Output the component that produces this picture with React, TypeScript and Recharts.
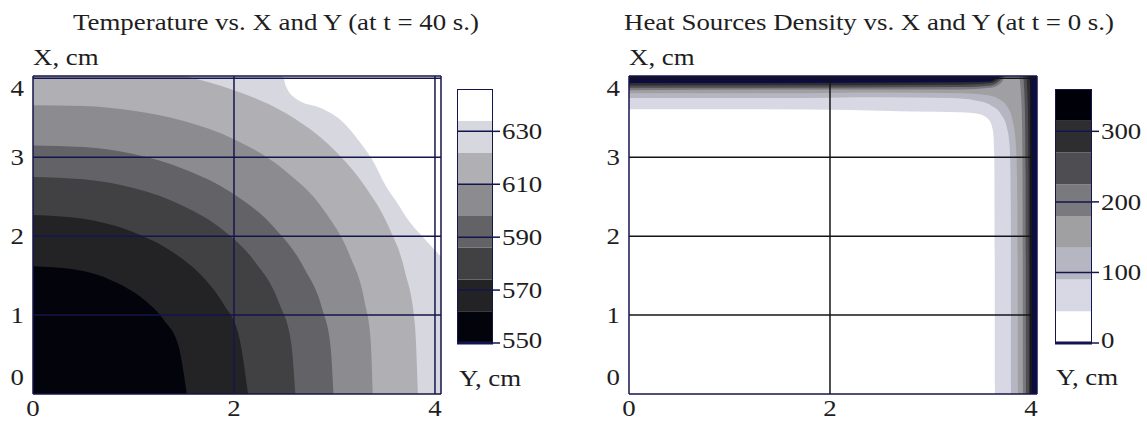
import React from "react";
import { ComposedChart, Area, XAxis, YAxis, ReferenceLine, BarChart, Bar } from "recharts";

const FONT = '"Liberation Serif", "Times New Roman", Times, serif';
const SX = 1.12; // the source text is a bit wide, stretch it horizontally
const NAVY = "#15154d";
const INK = "#1e1e1e";

// axes (cm)
const X_MAX = 4.06;
const Y_MAX = 4.03;
const X_TICKS = [0, 2, 4];
const Y_TICKS = [0, 1, 2, 3, 4];

// temperature: isotherm boundaries, coolest first ([x, y] in cm)
const T_C1 = [[0, 1.62], [0.4, 1.58], [0.8, 1.43], [1.1, 1.2], [1.3, 0.94], [1.45, 0.6], [1.53, 0]];
const T_C2 = [[0, 2.27], [0.5, 2.22], [1.0, 2.05], [1.4, 1.79], [1.7, 1.47], [1.9, 1.13], [2.05, 0.73], [2.14, 0]];
const T_C3 = [[0, 2.75], [0.5, 2.72], [1.0, 2.61], [1.5, 2.38], [1.9, 2.07], [2.2, 1.69], [2.45, 1.15], [2.57, 0.64], [2.61, 0]];
const T_C4 = [[0, 3.15], [0.5, 3.13], [1.0, 3.04], [1.5, 2.85], [2.0, 2.53], [2.4, 2.11], [2.7, 1.59], [2.88, 1.07], [2.96, 0.61], [2.99, 0]];
const T_C5 = [[0, 3.66], [0.5, 3.65], [1.0, 3.59], [1.5, 3.46], [2.0, 3.23], [2.5, 2.84], [2.9, 2.32], [3.15, 1.76], [3.3, 1.17], [3.36, 0.68], [3.38, 0]];
const T_C6 = [[0, 4.03], [1.51, 4.03], [1.6, 4.0], [1.75, 3.95], [2.0, 3.85], [2.5, 3.57], [3.0, 3.09], [3.3, 2.64], [3.55, 2.09], [3.7, 1.56], [3.8, 0.88], [3.83, 0]];
const T_C7 = [[0, 4.03], [2.48, 4.03], [2.52, 3.89], [2.62, 3.74], [2.87, 3.62], [3.08, 3.45], [3.23, 3.23], [3.37, 2.98], [3.51, 2.64], [3.62, 2.43], [3.73, 2.21], [3.9, 1.96], [4.06, 1.74]];
const T_BOUNDS = [T_C1, T_C2, T_C3, T_C4, T_C5, T_C6, T_C7];
const T_LEVELS = [550, 562, 574, 586, 598, 610, 622, 634, 646];
const T_COLORS = ["#03030c", "#232326", "#414144", "#636367", "#8c8c90", "#b0b0b4", "#d7d7df", "#ffffff"];
const T_LABELS = [550, 570, 590, 610, 630];

// heat sources density: band boundaries, lowest level first
const Q_C1 = [[0, 3.61], [1.2, 3.61], [2.2, 3.6], [2.8, 3.58], [3.3, 3.57], [3.48, 3.55], [3.57, 3.49], [3.62, 3.35], [3.635, 3.0], [3.64, 1.5], [3.641, 0]];
const Q_C2 = [[0, 3.75], [1.5, 3.75], [2.5, 3.76], [3.2, 3.75], [3.45, 3.72], [3.6, 3.66], [3.7, 3.55], [3.76, 3.38], [3.79, 3.1], [3.8, 2.2], [3.801, 0]];
const Q_C3 = [[0, 3.81], [1.5, 3.81], [2.5, 3.82], [3.3, 3.81], [3.55, 3.79], [3.68, 3.74], [3.76, 3.65], [3.82, 3.45], [3.85, 3.15], [3.865, 2.4], [3.87, 0]];
const Q_C4 = [[0, 3.85], [2.0, 3.86], [3.3, 3.86], [3.6, 3.88], [3.7, 3.94], [3.76, 4.03], [3.88, 4.03], [3.905, 3.7], [3.915, 3.0], [3.92, 0]];
const Q_C5 = [[0, 3.88], [3.3, 3.89], [3.6, 3.91], [3.69, 3.97], [3.74, 4.03], [3.92, 4.03], [3.94, 3.6], [3.947, 2.8], [3.95, 0]];
const Q_C6 = [[0, 3.91], [3.3, 3.92], [3.6, 3.94], [3.68, 3.99], [3.72, 4.03], [3.95, 4.03], [3.97, 3.6], [3.977, 2.8], [3.98, 0]];
const Q_C7 = [[0, 3.94], [3.3, 3.95], [3.6, 3.96], [3.66, 4.0], [3.7, 4.03], [3.98, 4.03], [4.0, 3.6], [4.007, 2.8], [4.01, 0]];
const Q_BOUNDS = [Q_C1, Q_C2, Q_C3, Q_C4, Q_C5, Q_C6, Q_C7];
const Q_LEVELS = [0, 45, 90, 135, 180, 225, 270, 315, 360];
const Q_COLORS = ["#ffffff", "#d8d8e4", "#b6b6c2", "#a0a0a2", "#7a7a7e", "#4e4e52", "#2e2e30", "#000008"];
const Q_PLOT_COLORS = ["#ffffff", "#d8d8e4", "#b6b6c2", "#a0a0a2", "#7a7a7e", "#4e4e52", "#2e2e30", "#0c0c40"];
const Q_LABELS = [0, 100, 200, 300];

const toPts = (a: number[][]) => a.map(([x, y]) => ({ x, y }));

function Txt({ x, y, anchor = "start", children }: any) {
  return (
    <text transform={`translate(${x},${y}) scale(${SX},1)`} textAnchor={anchor} fontFamily={FONT} fontSize={24} fill={INK}>
      {children}
    </text>
  );
}

function XTick({ x, y, payload }: any) {
  return <Txt x={x} y={y + 18} anchor="middle">{payload.value}</Txt>;
}

function YTick({ x, y, payload }: any) {
  // end labels are pulled inside the frame, like the original
  const v = payload.value;
  const shift = v === Y_TICKS[0] ? -17 : v === Y_TICKS[Y_TICKS.length - 1] ? 10 : 0;
  return <Txt x={x} y={y + shift + 8} anchor="end">{v}</Txt>;
}

function ContourPlot({ left, bounds, colors, grid }: any) {
  const bg = toPts([[0, Y_MAX], [X_MAX, Y_MAX]]);
  const order = bounds.map((_: any, i: number) => i).reverse();
  return (
    <div style={{ position: "absolute", left, top: 0 }}>
      <ComposedChart width={460} height={421} margin={{ top: 76, right: 19, bottom: 0, left: 0 }}>
        <XAxis type="number" dataKey="x" domain={[0, X_MAX]} allowDataOverflow ticks={X_TICKS} interval={0}
          tick={(p: any) => <XTick {...p} />} tickLine={false} axisLine={false} tickSize={0} tickMargin={4} height={27} />
        <YAxis type="number" dataKey="y" domain={[0, Y_MAX]} allowDataOverflow ticks={Y_TICKS} interval={0}
          tick={(p: any) => <YTick {...p} />} tickLine={false} axisLine={false} tickSize={0} tickMargin={9} width={33} />
        <Area data={bg} dataKey="y" type="linear" fill={colors[colors.length - 1]} fillOpacity={1} stroke="none"
          isAnimationActive={false} dot={false} activeDot={false} />
        {order.map((i: number) => (
          <Area key={i} data={toPts(bounds[i])} dataKey="y" type="monotone" fill={colors[i]} fillOpacity={1}
            stroke="none" isAnimationActive={false} dot={false} activeDot={false} />
        ))}
        {X_TICKS.filter((v) => v > 0).map((v) => (
          <ReferenceLine key={"gx" + v} x={v} stroke={grid} strokeWidth={1.5} />
        ))}
        {Y_TICKS.filter((v) => v > 0).map((v) => (
          <ReferenceLine key={"gy" + v} y={v} stroke={grid} strokeWidth={1.5} />
        ))}
        <ReferenceLine x={0} stroke={NAVY} strokeWidth={1.5} />
        <ReferenceLine x={X_MAX} stroke={NAVY} strokeWidth={1.5} />
        <ReferenceLine y={0} stroke={NAVY} strokeWidth={1.5} />
        <ReferenceLine y={Y_MAX} stroke={NAVY} strokeWidth={1.5} />
      </ComposedChart>
    </div>
  );
}

function BarTick({ x, y, payload, low }: any) {
  const shift = payload.value === low ? -3 : 0;
  return <Txt x={x} y={y + shift + 8}>{payload.value}</Txt>;
}

function ColorBar({ left, width, levels, colors, labels }: any) {
  const row: any = { name: "bar", base: levels[0] };
  colors.forEach((_: string, i: number) => (row["b" + i] = levels[i + 1] - levels[i]));
  const low = levels[0];
  const high = levels[levels.length - 1];
  return (
    <div style={{ position: "absolute", left, top: 79 }}>
      <BarChart width={width + 60} height={274} data={[row]} margin={{ top: 10, right: 0, bottom: 10, left: 0 }} barCategoryGap={0}>
        <XAxis dataKey="name" hide />
        <YAxis orientation="right" type="number" domain={[low, high]} allowDataOverflow ticks={labels} interval={0} width={60}
          tickSize={7} tickMargin={2} tickLine={{ stroke: NAVY, strokeWidth: 1.5 }} axisLine={false}
          tick={(p: any) => <BarTick {...p} low={low} />} />
        <Bar dataKey="base" stackId="s" fill="none" isAnimationActive={false} />
        {colors.map((c: string, i: number) => (
          <Bar key={i} dataKey={"b" + i} stackId="s" fill={c} isAnimationActive={false} />
        ))}
        {labels.slice(1).map((v: number) => (
          <ReferenceLine key={v} y={v} stroke={NAVY} strokeWidth={1.5} />
        ))}
        <ReferenceLine y={low} stroke={NAVY} strokeWidth={3} />
      </BarChart>
      <div style={{ position: "absolute", left: 0, top: 10, width, height: 254, boxSizing: "border-box", border: `1px solid ${NAVY}`, pointerEvents: "none" }} />
    </div>
  );
}

export default function App() {
  return (
    <div style={{ position: "absolute", left: 0, top: 0, width: 1147, height: 421, background: "#fff", overflow: "hidden" }}>
      <ContourPlot left={0} bounds={T_BOUNDS} colors={T_COLORS} grid={NAVY} />
      <ContourPlot left={596} bounds={Q_BOUNDS} colors={Q_PLOT_COLORS} grid="#141418" />
      <ColorBar left={457} width={36} levels={T_LEVELS} colors={T_COLORS} labels={T_LABELS} />
      <ColorBar left={1055} width={37} levels={Q_LEVELS} colors={Q_COLORS} labels={Q_LABELS} />
      <svg width={1147} height={421} style={{ position: "absolute", left: 0, top: 0, pointerEvents: "none" }}>
        <Txt x={73} y={30}>Temperature vs. X and Y (at t = 40 s.)</Txt>
        <Txt x={624} y={30}>Heat Sources Density vs. X and Y (at t = 0 s.)</Txt>
        <Txt x={33} y={65}>X, cm</Txt>
        <Txt x={629} y={65}>X, cm</Txt>
        <Txt x={459} y={386}>Y, cm</Txt>
        <Txt x={1056} y={385}>Y, cm</Txt>
      </svg>
    </div>
  );
}
